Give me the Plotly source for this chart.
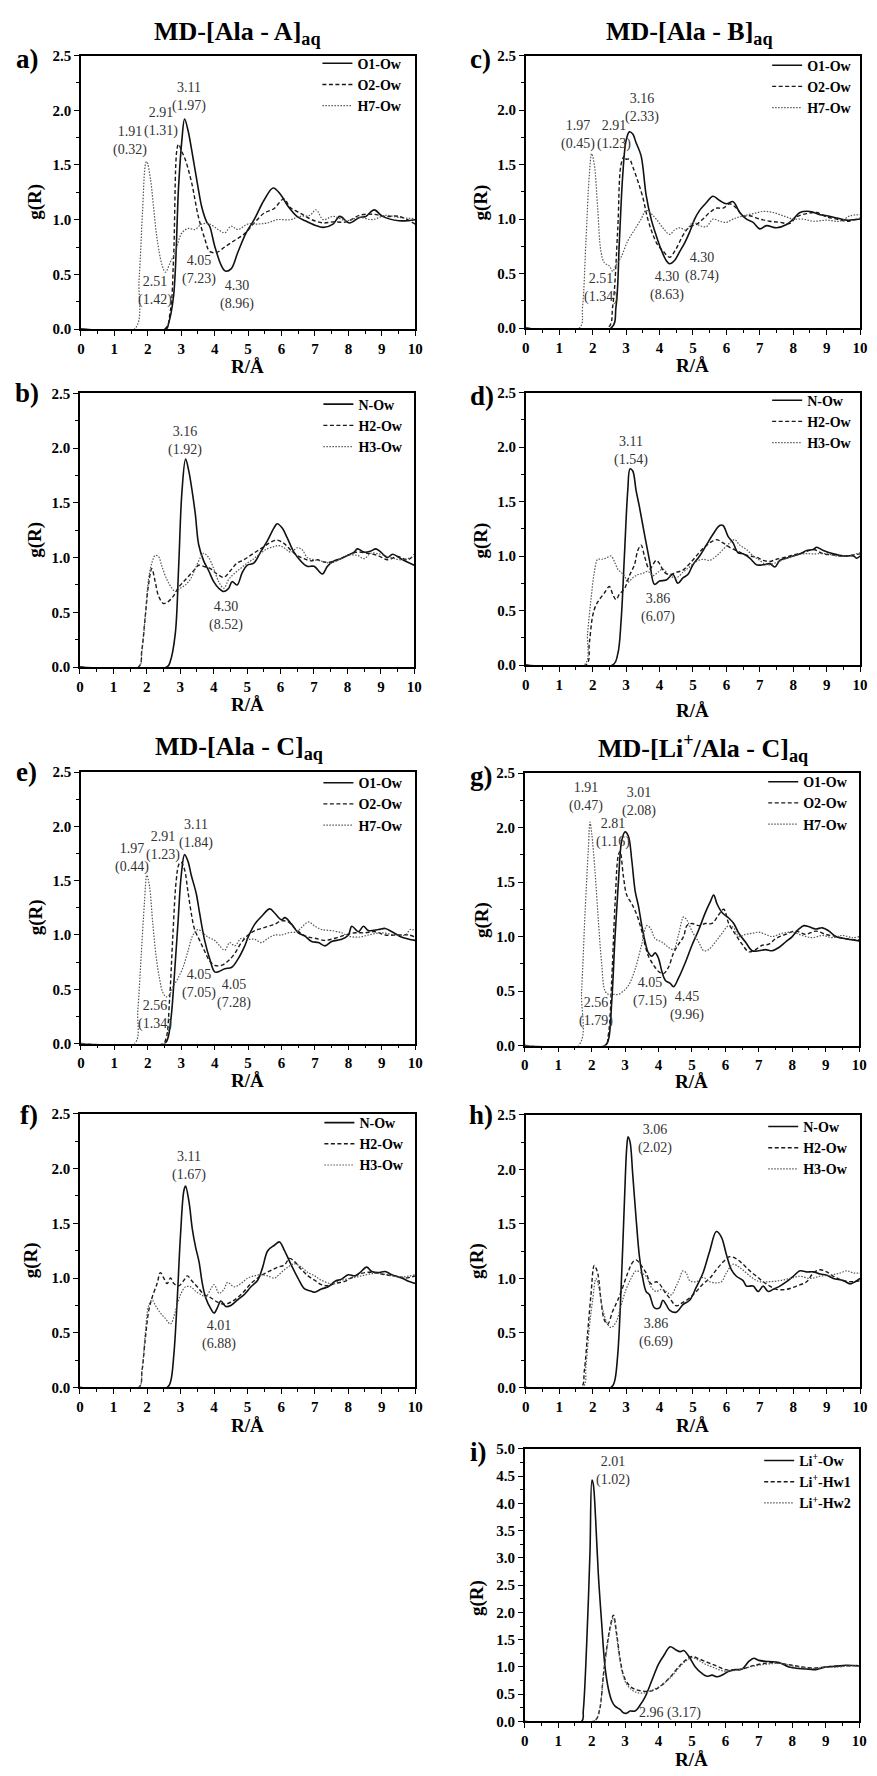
import plotly.graph_objects as go

W, H = 877, 1776
FONT = "Liberation Serif, Times New Roman, serif"

# ---------------- data (R in Angstrom, g(R)) ----------------
# panel a : MD-[Ala - A]aq , O/H7 - Ow
A_O1_R = [0, 2.55, 2.62, 2.77, 2.92, 3.02, 3.10, 3.2, 3.36, 3.5, 3.61, 3.76, 3.85, 4.0, 4.2, 4.32, 4.49, 4.69, 4.94, 5.18, 5.48, 5.75, 5.97, 6.2, 6.46, 6.71, 7.0, 7.25, 7.54, 7.74, 8.03, 8.33, 8.52, 8.77, 9.02, 9.51, 10]
A_O1_G = [0, 0, 0.05, 0.3, 1.3, 1.73, 1.92, 1.82, 1.55, 1.3, 1.12, 0.98, 0.94, 0.76, 0.58, 0.53, 0.55, 0.70, 0.88, 1.0, 1.18, 1.29, 1.23, 1.12, 1.03, 0.99, 0.95, 0.93, 0.96, 1.03, 0.97, 1.02, 1.03, 1.09, 1.03, 0.99, 1.0]
A_O2_R = [0, 2.5, 2.67, 2.77, 2.87, 2.92, 3.02, 3.12, 3.31, 3.51, 3.71, 3.85, 4.05, 4.3, 4.59, 4.89, 5.18, 5.48, 5.77, 6.07, 6.26, 6.56, 6.9, 7.25, 7.54, 7.94, 8.33, 8.72, 9.11, 9.51, 10]
A_O2_G = [0, 0, 0.16, 0.64, 1.64, 1.69, 1.62, 1.55, 1.34, 1.03, 0.82, 0.71, 0.70, 0.75, 0.81, 0.87, 0.97, 1.06, 1.10, 1.19, 1.11, 1.06, 1.0, 0.97, 0.98, 0.98, 1.04, 1.05, 1.03, 1.03, 0.96]
A_H7_R = [0, 1.6, 1.74, 1.84, 1.94, 1.97, 2.08, 2.18, 2.28, 2.43, 2.53, 2.67, 2.82, 3.02, 3.22, 3.41, 3.61, 3.85, 4.1, 4.3, 4.49, 4.69, 4.99, 5.28, 5.58, 5.87, 6.26, 6.56, 6.85, 7.03, 7.25, 7.54, 7.94, 8.33, 8.72, 9.11, 9.51, 10]
A_H7_G = [0, 0, 0.46, 1.06, 1.52, 1.53, 1.37, 1.09, 0.82, 0.58, 0.52, 0.61, 0.70, 0.88, 0.92, 0.91, 0.96, 0.96, 0.91, 0.88, 0.94, 0.91, 0.96, 0.96, 0.97, 1.0, 1.0, 1.03, 1.04, 1.09, 1.0, 1.03, 0.99, 1.02, 1.0, 1.04, 1.02, 1.01]

# panel b : MD-[Ala - A]aq , N/H - Ow
A_N_R = [0, 2.6, 2.7, 2.85, 2.95, 3.05, 3.16, 3.25, 3.35, 3.45, 3.55, 3.7, 3.85, 4.0, 4.15, 4.3, 4.45, 4.55, 4.7, 4.85, 5.0, 5.2, 5.4, 5.6, 5.8, 5.9, 6.05, 6.2, 6.4, 6.6, 6.8, 7.0, 7.25, 7.4, 7.6, 7.8, 8.0, 8.2, 8.3, 8.5, 8.7, 8.85, 9.0, 9.2, 9.35, 9.6, 10]
A_N_G = [0, 0, 0.05, 0.3, 0.9, 1.6, 1.9, 1.8, 1.62, 1.4, 1.12, 0.97, 0.88, 0.78, 0.72, 0.69, 0.72, 0.78, 0.75, 0.86, 0.93, 0.95, 1.05, 1.15, 1.27, 1.31, 1.27, 1.18, 1.05, 0.97, 0.92, 0.92, 0.85, 0.92, 0.97, 0.99, 1.02, 1.05, 1.08, 1.05, 1.06, 1.08, 1.05, 1.0, 1.03, 0.99, 0.93]
A_H2_R = [0, 1.75, 1.85, 1.95, 2.05, 2.15, 2.25, 2.35, 2.5, 2.65, 2.8, 2.95, 3.1, 3.25, 3.4, 3.55, 3.7, 3.9, 4.1, 4.3, 4.5, 4.7, 4.9, 5.1, 5.3, 5.5, 5.7, 5.9, 6.1, 6.3, 6.5, 6.7, 6.9, 7.1, 7.3, 7.5, 7.8, 8.0, 8.3, 8.6, 8.9, 9.2, 9.5, 9.8, 10]
A_H2_G = [0, 0, 0.15, 0.45, 0.75, 0.9, 0.78, 0.65, 0.58, 0.6, 0.65, 0.73, 0.78, 0.83, 0.88, 0.93, 0.92, 0.9, 0.85, 0.82, 0.88, 0.95, 0.98, 1.02, 1.06, 1.1, 1.14, 1.16, 1.13, 1.07, 1.02, 0.99, 0.97, 0.98, 0.96, 0.96, 0.99, 1.02, 1.05, 1.04, 1.02, 0.98, 1.01, 0.98, 1.03]
A_H3_R = [0, 1.75, 1.85, 1.95, 2.05, 2.15, 2.25, 2.35, 2.45, 2.6, 2.75, 2.85, 3.0, 3.15, 3.3, 3.45, 3.6, 3.7, 3.85, 4.0, 4.15, 4.3, 4.45, 4.6, 4.8, 5.0, 5.2, 5.4, 5.6, 5.8, 5.95, 6.1, 6.3, 6.5, 6.65, 6.8, 7.0, 7.2, 7.5, 7.8, 8.0, 8.3, 8.5, 8.7, 9.0, 9.3, 9.6, 10]
A_H3_G = [0, 0, 0.15, 0.45, 0.8, 0.95, 1.02, 1.01, 0.92, 0.8, 0.72, 0.69, 0.72, 0.75, 0.8, 0.9, 1.0, 1.04, 1.0, 0.9, 0.78, 0.72, 0.8, 0.85, 0.9, 0.95, 0.99, 1.04, 1.08, 1.1, 1.11, 1.09, 1.05, 1.09, 1.07, 1.0, 0.98, 0.97, 0.95, 0.99, 1.02, 1.02, 0.99, 1.04, 1.03, 1.0, 0.98, 1.01]

# panel c : MD-[Ala - B]aq
B_O1_R = [0, 2.55, 2.7, 2.8, 2.9, 3.0, 3.1, 3.2, 3.3, 3.45, 3.6, 3.75, 3.9, 4.05, 4.2, 4.3, 4.45, 4.6, 4.75, 4.9, 5.05, 5.2, 5.4, 5.6, 5.8, 6.0, 6.2, 6.4, 6.6, 6.8, 7.0, 7.2, 7.5, 7.8, 8.0, 8.2, 8.5, 8.8, 9.0, 9.3, 9.6, 10]
B_O1_G = [0, 0, 0.2, 0.8, 1.4, 1.72, 1.80, 1.78, 1.70, 1.58, 1.22, 1.0, 0.85, 0.72, 0.62, 0.59, 0.62, 0.70, 0.78, 0.88, 1.0, 1.08, 1.15, 1.21, 1.17, 1.14, 1.16, 1.06, 1.0, 0.97, 0.91, 0.94, 0.92, 0.95, 1.0, 1.06, 1.07, 1.04, 1.03, 1.01, 0.99, 1.0]
B_O2_R = [0, 2.45, 2.6, 2.75, 2.85, 2.95, 3.0, 3.1, 3.2, 3.35, 3.5, 3.65, 3.8, 3.95, 4.1, 4.3, 4.5, 4.7, 4.9, 5.1, 5.3, 5.5, 5.7, 5.9, 6.1, 6.3, 6.5, 6.7, 7.0, 7.3, 7.6, 7.9, 8.1, 8.4, 8.7, 9.0, 9.3, 9.6, 10]
B_O2_G = [0, 0, 0.2, 0.9, 1.5, 1.58, 1.55, 1.55, 1.48, 1.35, 1.2, 1.0, 0.86, 0.76, 0.71, 0.65, 0.73, 0.85, 0.93, 0.95, 1.0, 1.06, 1.1, 1.1, 1.14, 1.1, 1.03, 1.03, 1.0, 0.98, 0.97, 0.96, 1.02, 1.05, 1.06, 1.02, 1.0, 0.98, 1.01]
B_H7_R = [0, 1.6, 1.7, 1.8, 1.9, 1.97, 2.05, 2.15, 2.25, 2.35, 2.5, 2.6, 2.7, 2.85, 3.05, 3.25, 3.45, 3.6, 3.75, 3.9, 4.1, 4.3, 4.45, 4.6, 4.8, 5.0, 5.2, 5.4, 5.6, 5.8, 6.0, 6.2, 6.5, 6.8, 7.1, 7.4, 7.7, 8.0, 8.3, 8.6, 9.0, 9.4, 9.7, 10]
B_H7_G = [0, 0, 0.2, 0.8, 1.4, 1.6, 1.5, 1.1, 0.7, 0.6, 0.57, 0.52, 0.58, 0.65, 0.8, 0.9, 1.0, 1.08, 1.05, 1.0, 0.92, 0.86, 0.9, 0.92, 0.9, 0.97, 0.94, 0.93, 1.0, 0.98, 0.97, 1.0, 1.03, 1.05, 1.07, 1.06, 1.03, 1.0, 1.0, 0.98, 0.99, 0.98, 1.03, 1.04]

# panel d : MD-[Ala - B]aq , N/H
B_N_R = [0, 2.6, 2.75, 2.85, 2.95, 3.05, 3.12, 3.2, 3.3, 3.4, 3.55, 3.7, 3.85, 4.0, 4.2, 4.4, 4.55, 4.7, 4.85, 5.0, 5.2, 5.4, 5.6, 5.8, 5.9, 6.05, 6.2, 6.35, 6.5, 6.7, 6.9, 7.1, 7.3, 7.45, 7.6, 7.8, 8.0, 8.2, 8.4, 8.6, 8.7, 8.9, 9.2, 9.5, 9.8, 9.9, 10]
B_N_G = [0, 0, 0.1, 0.4, 1.0, 1.6, 1.8, 1.78, 1.6, 1.45, 1.2, 0.96, 0.74, 0.77, 0.78, 0.83, 0.75, 0.8, 0.83, 0.92, 1.0, 1.1, 1.2, 1.28, 1.28, 1.18, 1.12, 1.03, 1.02, 0.98, 0.92, 0.92, 0.93, 0.9, 0.96, 0.98, 1.0, 1.02, 1.05, 1.06, 1.08, 1.05, 1.02, 1.0, 1.0, 0.98, 1.0]
B_H2_R = [0, 1.8, 1.9, 2.0, 2.1, 2.2, 2.35, 2.5, 2.6, 2.7, 2.8, 2.95, 3.1, 3.25, 3.35, 3.45, 3.55, 3.7, 3.9, 4.0, 4.15, 4.3, 4.5, 4.7, 4.9, 5.1, 5.3, 5.5, 5.7, 5.9, 6.1, 6.3, 6.5, 6.7, 6.9, 7.1, 7.3, 7.5, 7.8, 8.0, 8.3, 8.6, 8.9, 9.2, 9.5, 10]
B_H2_G = [0, 0, 0.2, 0.45, 0.55, 0.6, 0.66, 0.72, 0.65, 0.6, 0.65, 0.7, 0.82, 0.92, 1.05, 1.1, 1.0, 0.88, 0.96, 0.93, 0.85, 0.83, 0.85, 0.87, 0.93, 1.0, 1.07, 1.12, 1.15, 1.12, 1.08, 1.05, 1.02, 1.0, 0.99, 0.96, 0.95, 0.97, 0.99, 1.01, 1.03, 1.06, 1.02, 1.01, 1.0, 1.02]
B_H3_R = [0, 1.75, 1.85, 1.95, 2.05, 2.15, 2.25, 2.4, 2.55, 2.65, 2.75, 2.85, 2.95, 3.05, 3.2, 3.35, 3.5, 3.65, 3.8, 3.95, 4.1, 4.3, 4.5, 4.7, 4.9, 5.1, 5.3, 5.5, 5.7, 5.9, 6.1, 6.25, 6.4, 6.6, 6.8, 7.0, 7.2, 7.5, 7.8, 8.0, 8.3, 8.6, 9.0, 9.3, 9.6, 10]
B_H3_G = [0, 0, 0.3, 0.6, 0.85, 0.97, 0.97, 0.98, 1.0, 0.95, 0.88, 0.85, 0.82, 0.76, 0.8, 0.83, 0.84, 0.86, 0.82, 0.85, 0.88, 0.82, 0.8, 0.85, 0.9, 0.95, 0.97, 0.96, 1.0, 1.06, 1.12, 1.15, 1.1, 1.06, 1.0, 0.96, 0.92, 0.94, 0.98, 1.0, 1.02, 1.02, 1.02, 1.0, 1.0, 1.03]

# panel e : MD-[Ala - C]aq
C_O1_R = [0, 2.5, 2.6, 2.7, 2.8, 2.9, 3.0, 3.1, 3.2, 3.3, 3.45, 3.55, 3.7, 3.85, 4.0, 4.1, 4.3, 4.5, 4.7, 4.9, 5.0, 5.2, 5.4, 5.65, 5.8, 6.0, 6.1, 6.3, 6.5, 6.7, 6.9, 7.1, 7.3, 7.5, 7.8, 8.0, 8.1, 8.3, 8.45, 8.6, 8.9, 9.1, 9.3, 9.6, 10]
C_O1_G = [0, 0, 0.05, 0.25, 0.65, 1.1, 1.55, 1.74, 1.68, 1.55, 1.38, 1.2, 0.95, 0.78, 0.66, 0.66, 0.69, 0.7, 0.78, 0.9, 0.98, 1.1, 1.17, 1.24, 1.2, 1.14, 1.16, 1.1, 1.02, 0.99, 0.94, 0.93, 0.9, 0.94, 0.96, 1.0, 1.08, 1.03, 1.08, 1.04, 1.05, 1.06, 1.03, 0.98, 0.95]
C_O2_R = [0, 2.45, 2.55, 2.65, 2.75, 2.85, 2.93, 3.0, 3.1, 3.2, 3.3, 3.4, 3.55, 3.7, 3.85, 4.0, 4.2, 4.4, 4.6, 4.8, 5.0, 5.2, 5.4, 5.6, 5.8, 6.0, 6.2, 6.4, 6.6, 6.8, 7.0, 7.3, 7.6, 7.9, 8.2, 8.5, 8.8, 9.1, 9.5, 9.8, 10]
C_O2_G = [0, 0, 0.05, 0.4, 1.0, 1.5, 1.65, 1.67, 1.6, 1.4, 1.2, 1.05, 0.95, 0.85, 0.76, 0.72, 0.72, 0.76, 0.83, 0.93, 1.0, 1.04, 1.06, 1.08, 1.1, 1.13, 1.12, 1.06, 1.01, 0.98, 0.97, 0.95, 0.97, 1.0, 1.02, 1.02, 1.03, 1.0, 1.0, 1.0, 0.98]
C_H7_R = [0, 1.6, 1.7, 1.8, 1.9, 1.97, 2.05, 2.15, 2.25, 2.35, 2.45, 2.55, 2.65, 2.75, 2.9, 3.05, 3.2, 3.35, 3.5, 3.65, 3.8, 4.0, 4.15, 4.3, 4.45, 4.6, 4.8, 5.0, 5.2, 5.4, 5.6, 5.8, 6.0, 6.2, 6.45, 6.6, 6.8, 7.0, 7.2, 7.5, 7.8, 8.0, 8.3, 8.6, 9.0, 9.4, 9.7, 9.85, 10]
C_H7_G = [0, 0, 0.3, 0.8, 1.3, 1.55, 1.45, 1.1, 0.8, 0.6, 0.47, 0.43, 0.45, 0.52, 0.6, 0.7, 0.85, 1.0, 1.05, 1.02, 0.98, 0.95, 0.9, 0.86, 0.93, 0.9, 0.97, 0.96, 0.96, 0.93, 0.97, 1.0, 1.0, 1.02, 1.03, 1.07, 1.12, 1.08, 1.05, 1.04, 1.02, 0.99, 0.98, 1.0, 1.02, 1.0, 1.0, 1.05, 1.04]

# panel f : MD-[Ala - C]aq , N/H
C_N_R = [0, 2.6, 2.7, 2.8, 2.9, 3.0, 3.1, 3.15, 3.25, 3.35, 3.45, 3.55, 3.65, 3.75, 3.9, 4.0, 4.1, 4.2, 4.35, 4.5, 4.7, 4.9, 5.1, 5.3, 5.45, 5.6, 5.8, 5.95, 6.1, 6.3, 6.5, 6.7, 6.9, 7.0, 7.2, 7.4, 7.6, 7.8, 8.0, 8.2, 8.35, 8.55, 8.7, 8.9, 9.1, 9.3, 9.6, 9.8, 10]
C_N_G = [0, 0, 0.05, 0.3, 0.8, 1.4, 1.8, 1.84, 1.7, 1.45, 1.28, 1.15, 0.95, 0.82, 0.72, 0.68, 0.73, 0.79, 0.74, 0.75, 0.8, 0.85, 0.92, 0.98, 1.1, 1.25, 1.3, 1.33, 1.25, 1.12, 1.0, 0.9, 0.88, 0.87, 0.9, 0.92, 0.97, 0.99, 1.03, 1.02, 1.05, 1.1, 1.06, 1.05, 1.06, 1.03, 1.0, 0.97, 0.95]
C_H2_R = [0, 1.75, 1.85, 1.95, 2.05, 2.15, 2.3, 2.4, 2.5, 2.6, 2.7, 2.8, 2.95, 3.1, 3.2, 3.35, 3.5, 3.7, 3.9, 4.1, 4.3, 4.5, 4.7, 4.9, 5.1, 5.3, 5.5, 5.7, 5.9, 6.1, 6.25, 6.4, 6.6, 6.8, 7.0, 7.2, 7.4, 7.6, 7.9, 8.2, 8.5, 8.8, 9.1, 9.4, 9.7, 10]
C_H2_G = [0, 0, 0.15, 0.45, 0.7, 0.82, 0.95, 1.05, 1.0, 0.95, 1.0, 0.95, 0.93, 0.98, 1.02, 0.97, 0.92, 0.85, 0.82, 0.78, 0.76, 0.78, 0.82, 0.88, 0.95, 1.0, 1.04, 1.07, 1.1, 1.12, 1.18, 1.15, 1.08, 1.02, 0.98, 0.94, 0.93, 0.95, 0.97, 1.02, 1.05, 1.05, 1.03, 1.02, 1.0, 1.02]
C_H3_R = [0, 1.75, 1.85, 1.95, 2.05, 2.15, 2.25, 2.4, 2.55, 2.7, 2.85, 3.0, 3.15, 3.3, 3.45, 3.6, 3.75, 3.9, 4.0, 4.15, 4.3, 4.4, 4.6, 4.8, 5.0, 5.2, 5.4, 5.6, 5.8, 6.0, 6.2, 6.4, 6.6, 6.8, 7.0, 7.2, 7.5, 7.8, 8.1, 8.4, 8.7, 9.0, 9.3, 9.6, 10]
C_H3_G = [0, 0, 0.15, 0.5, 0.75, 0.8, 0.75, 0.68, 0.63, 0.58, 0.7, 0.85, 0.92, 0.92, 0.88, 0.85, 0.83, 0.9, 0.94, 0.86, 0.9, 0.96, 0.92, 0.95, 1.0, 1.02, 1.03, 1.02, 1.0, 1.05, 1.1, 1.13, 1.1, 1.05, 1.02, 0.98, 0.95, 0.98, 1.0, 1.02, 1.04, 1.04, 1.02, 1.01, 1.03]

# panel g : MD-[Li+/Ala - C]aq
L_O1_R = [0, 2.4, 2.5, 2.6, 2.7, 2.8, 2.9, 3.0, 3.1, 3.2, 3.3, 3.4, 3.5, 3.6, 3.7, 3.8, 3.9, 4.0, 4.1, 4.2, 4.35, 4.45, 4.6, 4.8, 5.0, 5.2, 5.4, 5.55, 5.65, 5.75, 5.9, 6.1, 6.25, 6.4, 6.6, 6.8, 7.0, 7.2, 7.4, 7.6, 7.8, 8.0, 8.2, 8.35, 8.5, 8.7, 8.9, 9.1, 9.3, 9.6, 10]
L_O1_G = [0, 0, 0.05, 0.4, 1.0, 1.5, 1.88, 1.96, 1.92, 1.7, 1.42, 1.28, 1.1, 0.95, 0.85, 0.82, 0.85, 0.8, 0.68, 0.6, 0.57, 0.54, 0.62, 0.76, 0.92, 1.06, 1.22, 1.32, 1.38, 1.3, 1.22, 1.17, 1.12, 1.03, 0.95, 0.87, 0.87, 0.88, 0.87, 0.9, 0.95, 1.0, 1.07, 1.1, 1.09, 1.07, 1.08, 1.05, 1.0, 0.98, 0.96]
L_O2_R = [0, 2.4, 2.5, 2.6, 2.7, 2.8, 2.85, 2.95, 3.05, 3.2, 3.35, 3.5, 3.6, 3.7, 3.85, 4.0, 4.15, 4.3, 4.45, 4.6, 4.75, 4.85, 5.0, 5.2, 5.4, 5.6, 5.8, 5.95, 6.1, 6.3, 6.5, 6.7, 6.9, 7.1, 7.3, 7.5, 7.8, 8.1, 8.4, 8.7, 9.0, 9.3, 9.6, 10]
L_O2_G = [0, 0, 0.1, 0.6, 1.3, 1.75, 1.78, 1.55, 1.38, 1.3, 1.2, 1.05, 0.92, 0.82, 0.74, 0.68, 0.66, 0.72, 0.85, 0.93, 1.0, 1.1, 1.12, 1.1, 1.12, 1.12, 1.2, 1.25, 1.12, 1.02, 0.93, 0.86, 0.88, 0.92, 0.93, 0.98, 1.02, 1.05, 1.02, 1.05, 1.02, 1.0, 0.98, 0.97]
L_H7_R = [0, 1.6, 1.7, 1.8, 1.9, 1.95, 2.0, 2.1, 2.2, 2.3, 2.4, 2.5, 2.65, 2.8, 2.95, 3.1, 3.3, 3.5, 3.65, 3.75, 3.9, 4.1, 4.3, 4.45, 4.6, 4.75, 4.85, 5.0, 5.2, 5.35, 5.5, 5.7, 5.9, 6.1, 6.25, 6.4, 6.6, 6.8, 7.0, 7.2, 7.4, 7.7, 8.0, 8.3, 8.6, 8.9, 9.2, 9.5, 9.8, 10]
L_H7_G = [0, 0, 0.5, 1.2, 1.8, 2.05, 1.95, 1.6, 1.15, 0.75, 0.5, 0.47, 0.47, 0.47, 0.5, 0.55, 0.7, 0.93, 1.1, 1.08, 0.98, 0.95, 0.9, 0.88, 1.02, 1.18, 1.15, 1.05, 0.95, 0.87, 0.88, 0.95, 1.03, 1.1, 1.08, 1.0, 1.02, 1.03, 1.04, 1.02, 1.0, 1.03, 1.04, 1.01, 0.99, 1.01, 0.99, 1.01, 0.99, 1.0]

# panel h : MD-[Li+/Ala - C]aq , N/H
L_N_R = [0, 2.55, 2.65, 2.75, 2.85, 2.95, 3.02, 3.06, 3.12, 3.2, 3.3, 3.4, 3.5, 3.6, 3.7, 3.85, 4.0, 4.1, 4.2, 4.3, 4.5, 4.7, 4.9, 5.1, 5.3, 5.5, 5.7, 5.85, 6.0, 6.15, 6.3, 6.5, 6.6, 6.8, 6.95, 7.1, 7.25, 7.4, 7.6, 7.8, 8.0, 8.2, 8.4, 8.6, 8.8, 9.0, 9.2, 9.5, 9.7, 9.85, 10]
L_N_G = [0, 0, 0.05, 0.3, 0.9, 1.7, 2.2, 2.3, 2.25, 1.95, 1.55, 1.2, 1.0, 0.88, 0.85, 0.73, 0.73, 0.8, 0.76, 0.71, 0.69, 0.76, 0.8, 0.92, 1.05, 1.25, 1.43, 1.38, 1.22, 1.08, 1.02, 0.98, 0.93, 0.93, 0.88, 0.93, 0.88, 0.9, 0.93, 0.97, 1.02, 1.07, 1.06, 1.06, 1.04, 1.03, 1.0, 0.98, 0.95, 0.97, 1.0]
L_H2_R = [0, 1.65, 1.75, 1.85, 1.95, 2.05, 2.15, 2.25, 2.35, 2.45, 2.6, 2.75, 2.9, 3.05, 3.2, 3.3, 3.45, 3.6, 3.75, 3.9, 4.0, 4.15, 4.3, 4.5, 4.7, 4.9, 5.1, 5.3, 5.5, 5.7, 5.9, 6.1, 6.3, 6.5, 6.7, 6.9, 7.1, 7.3, 7.5, 7.8, 8.1, 8.4, 8.6, 8.8, 9.0, 9.2, 9.5, 9.8, 10]
L_H2_G = [0, 0, 0.15, 0.5, 0.85, 1.12, 1.05, 0.8, 0.62, 0.58, 0.7, 0.8, 0.92, 1.05, 1.15, 1.17, 1.12, 1.05, 0.95, 0.97, 0.95, 0.88, 0.82, 0.75, 0.78, 0.82, 0.88, 0.95, 1.0, 1.08, 1.15, 1.2, 1.18, 1.13, 1.07, 1.02, 0.97, 0.93, 0.9, 0.9, 0.93, 0.97, 1.05, 1.08, 1.06, 1.02, 0.98, 0.97, 0.98]
L_H3_R = [0, 1.7, 1.8, 1.9, 2.0, 2.1, 2.2, 2.3, 2.45, 2.55, 2.7, 2.85, 3.0, 3.15, 3.3, 3.45, 3.6, 3.75, 3.9, 4.05, 4.2, 4.35, 4.5, 4.6, 4.7, 4.8, 4.9, 5.1, 5.3, 5.5, 5.7, 5.85, 6.0, 6.2, 6.4, 6.6, 6.8, 7.0, 7.3, 7.6, 7.9, 8.2, 8.5, 8.8, 9.1, 9.4, 9.6, 9.8, 10]
L_H3_G = [0, 0, 0.2, 0.55, 0.8, 1.0, 0.9, 0.72, 0.58, 0.55, 0.6, 0.75, 0.9, 1.0, 1.07, 1.05, 1.02, 0.92, 0.88, 0.9, 0.88, 0.85, 0.93, 1.0, 1.07, 1.05, 0.98, 0.97, 1.01, 0.97, 0.96, 0.97, 1.05, 1.13, 1.1, 1.05, 1.0, 0.97, 0.97, 0.98, 1.0, 1.02, 1.0, 1.02, 1.03, 1.05, 1.07, 1.05, 1.05]

# panel i : Li+ - water
LI_O_R = [0, 1.7, 1.75, 1.85, 1.95, 2.01, 2.05, 2.12, 2.2, 2.3, 2.4, 2.5, 2.6, 2.7, 2.85, 2.95, 3.05, 3.15, 3.3, 3.45, 3.6, 3.8, 4.0, 4.15, 4.35, 4.5, 4.65, 4.75, 4.9, 5.1, 5.3, 5.45, 5.6, 5.75, 5.9, 6.1, 6.3, 6.5, 6.7, 6.85, 7.0, 7.3, 7.6, 7.9, 8.2, 8.5, 8.7, 9.0, 9.3, 9.6, 10]
LI_O_G = [0, 0, 0.2, 1.4, 3.1, 4.43, 4.35, 3.7, 2.7, 1.8, 1.0, 0.6, 0.38, 0.28, 0.22, 0.16, 0.15, 0.19, 0.19, 0.3, 0.45, 0.75, 1.05, 1.2, 1.37, 1.32, 1.28, 1.3, 1.2, 1.0, 0.88, 0.83, 0.85, 0.82, 0.85, 0.92, 0.95, 0.96, 1.1, 1.16, 1.12, 1.1, 1.08, 1.0, 0.97, 0.96, 0.95, 1.0, 1.01, 1.03, 1.02]
LI_HW1_R = [0, 2.05, 2.15, 2.25, 2.35, 2.45, 2.55, 2.65, 2.75, 2.85, 2.95, 3.05, 3.2, 3.35, 3.5, 3.65, 3.8, 4.0, 4.2, 4.4, 4.6, 4.8, 5.0, 5.2, 5.4, 5.6, 5.8, 6.0, 6.2, 6.5, 6.8, 7.1, 7.4, 7.7, 8.0, 8.3, 8.6, 9.0, 9.4, 9.7, 10]
LI_HW1_G = [0, 0, 0.05, 0.25, 0.85, 1.35, 1.72, 1.95, 1.6, 1.15, 0.85, 0.72, 0.62, 0.58, 0.56, 0.55, 0.56, 0.62, 0.72, 0.85, 1.0, 1.12, 1.19, 1.15, 1.1, 1.05, 1.0, 0.95, 0.94, 0.96, 1.02, 1.06, 1.08, 1.06, 1.03, 1.0, 0.98, 1.0, 1.02, 1.02, 1.03]
LI_HW2_R = [0, 2.05, 2.15, 2.25, 2.35, 2.45, 2.55, 2.65, 2.75, 2.85, 2.95, 3.05, 3.2, 3.35, 3.5, 3.65, 3.8, 4.0, 4.2, 4.4, 4.6, 4.8, 5.0, 5.2, 5.4, 5.6, 5.8, 6.0, 6.2, 6.5, 6.8, 7.1, 7.4, 7.7, 8.0, 8.3, 8.6, 9.0, 9.4, 9.7, 10]
LI_HW2_G = [0, 0, 0.05, 0.25, 0.8, 1.3, 1.68, 1.9, 1.55, 1.1, 0.82, 0.68, 0.58, 0.53, 0.52, 0.53, 0.57, 0.63, 0.72, 0.83, 0.98, 1.1, 1.17, 1.12, 1.05, 1.0, 0.95, 0.92, 0.93, 0.96, 1.01, 1.04, 1.06, 1.06, 1.02, 0.99, 0.97, 0.99, 1.0, 1.02, 1.02]

# peak / minimum labels (R, g position of label, text)
A1_LABELS = [(3.24, 2.12, "3.11<br>(1.97)"), (2.39, 1.89, "2.91<br>(1.31)"), (1.47, 1.72, "1.91<br>(0.32)"),
             (2.21, 0.35, "2.51<br>(1.42)"), (3.54, 0.54, "4.05<br>(7.23)"), (4.66, 0.31, "4.30<br>(8.96)")]
A2_LABELS = [(3.15, 2.07, "3.16<br>(1.92)"), (4.38, 0.47, "4.30<br>(8.52)")]
B1_LABELS = [(3.47, 2.02, "3.16<br>(2.33)"), (2.63, 1.77, "2.91<br>(1.23)"), (1.55, 1.77, "1.97<br>(0.45)"),
             (2.24, 0.37, "2.51<br>(1.34)"), (4.22, 0.39, "4.30<br>(8.63)"), (5.28, 0.56, "4.30<br>(8.74)")]
B2_LABELS = [(3.16, 1.96, "3.11<br>(1.54)"), (3.95, 0.52, "3.86<br>(6.07)")]
C1_LABELS = [(3.45, 1.93, "3.11<br>(1.84)"), (2.45, 1.82, "2.91<br>(1.23)"), (1.53, 1.71, "1.97<br>(0.44)"),
             (2.21, 0.26, "2.56<br>(1.34)"), (3.54, 0.55, "4.05<br>(7.05)"), (4.57, 0.46, "4.05<br>(7.28)")]
C2_LABELS = [(3.24, 2.02, "3.11<br>(1.67)"), (4.15, 0.48, "4.01<br>(6.88)")]
L1_LABELS = [(1.83, 2.28, "1.91<br>(0.47)"), (3.42, 2.23, "3.01<br>(2.08)"), (2.63, 1.95, "2.81<br>(1.16)"),
             (2.12, 0.31, "2.56<br>(1.79)"), (3.75, 0.49, "4.05<br>(7.15)"), (4.84, 0.36, "4.45<br>(9.96)")]
L2_LABELS = [(3.86, 2.28, "3.06<br>(2.02)"), (3.89, 0.50, "3.86<br>(6.69)")]
LI_LABELS = [(2.63, 4.6, "2.01<br>(1.02)"), (4.34, 0.16, "2.96 (3.17)")]

TITLES = ["MD-[Ala - A]<sub>aq</sub>", "MD-[Ala - B]<sub>aq</sub>",
          "MD-[Ala - C]<sub>aq</sub>", "MD-[Li<sup>+</sup>/Ala - C]<sub>aq</sub>"]

# ---------------- styles ----------------
STY = {
    "solid": dict(color="#111111", width=1.6, dash="solid"),
    "dash": dict(color="#1a1a1a", width=1.4, dash="4px,2.5px"),
    "dot": dict(color="#555555", width=1.2, dash="1.5px,1.5px"),
}
OH = ["O1-Ow", "O2-Ow", "H7-Ow"]
NH = ["N-Ow", "H2-Ow", "H3-Ow"]

def xp(px):
    return px / W

def yp(py):
    return 1 - py / H

panels = [
    dict(lab="a)", box=(78, 417, 48, 324), ymax=2.5, names=OH,
         data=[(A_O1_R, A_O1_G), (A_O2_R, A_O2_G), (A_H7_R, A_H7_G)], notes=A1_LABELS,
         leg=(409, 40), glab=(32, 196), rlab=(247, 362), plab=(24, 51)),
    dict(lab="b)", box=(77, 416, 389, 665), ymax=2.5, names=NH,
         data=[(A_N_R, A_N_G), (A_H2_R, A_H2_G), (A_H3_R, A_H3_G)], notes=A2_LABELS,
         leg=(410, 384), glab=(32, 537), rlab=(247, 703), plab=(23, 389)),
    dict(lab="c)", box=(529, 868, 48, 323), ymax=2.5, names=OH,
         data=[(B_O1_R, B_O1_G), (B_O2_R, B_O2_G), (B_H7_R, B_H7_G)], notes=B1_LABELS,
         leg=(865, 42), glab=(484, 196), rlab=(698, 361), plab=(483, 51)),
    dict(lab="d)", box=(529, 868, 388, 663), ymax=2.5, names=NH,
         data=[(B_N_R, B_N_G), (B_H2_R, B_H2_G), (B_H3_R, B_H3_G)], notes=B2_LABELS,
         leg=(865, 380), glab=(484, 537), rlab=(698, 709), plab=(485, 392)),
    dict(lab="e)", box=(78, 417, 771, 1045), ymax=2.5, names=OH,
         data=[(C_O1_R, C_O1_G), (C_O2_R, C_O2_G), (C_H7_R, C_H7_G)], notes=C1_LABELS,
         leg=(410, 766), glab=(32, 918), rlab=(247, 1082), plab=(23, 771)),
    dict(lab="f)", box=(77, 417, 1116, 1392), ymax=2.5, names=NH,
         data=[(C_N_R, C_N_G), (C_H2_R, C_H2_G), (C_H3_R, C_H3_G)], notes=C2_LABELS,
         leg=(411, 1109), glab=(27, 1264), rlab=(247, 1430), plab=(25, 1117)),
    dict(lab="g)", box=(528, 867, 772, 1047), ymax=2.5, names=OH,
         data=[(L_O1_R, L_O1_G), (L_O2_R, L_O2_G), (L_H7_R, L_H7_G)], notes=L1_LABELS,
         leg=(861, 765), glab=(484, 920), rlab=(697, 1083), plab=(484, 775)),
    dict(lab="h)", box=(529, 868, 1117, 1392), ymax=2.5, names=NH,
         data=[(L_N_R, L_N_G), (L_H2_R, L_H2_G), (L_H3_R, L_H3_G)], notes=L2_LABELS,
         leg=(861, 1113), glab=(479, 1264), rlab=(698, 1430), plab=(484, 1117)),
    dict(lab="i)", box=(528, 867, 1454, 1729), ymax=5.0, names=["Li<sup>+</sup>-Ow", "Li<sup>+</sup>-Hw1", "Li<sup>+</sup>-Hw2"],
         data=[(LI_O_R, LI_O_G), (LI_HW1_R, LI_HW1_G), (LI_HW2_R, LI_HW2_G)], notes=LI_LABELS,
         leg=(864, 1450), glab=(479, 1604), rlab=(697, 1767), plab=(481, 1457)),
]

fig = go.Figure()
layout = dict(width=W, height=H, margin=dict(l=0, r=0, t=0, b=0),
              paper_bgcolor="white", plot_bgcolor="white",
              font=dict(family=FONT, color="black"), showlegend=True)
annotations = []
styles = ["solid", "dash", "dot"]

for k, p in enumerate(panels, start=1):
    sx = "" if k == 1 else str(k)
    leg_id = "legend" if k == 1 else f"legend{k}"
    x0, x1, y0, y1 = p["box"]
    for (rr, gg), nm, st in zip(p["data"], p["names"], styles):
        if len(rr) != len(gg):
            raise ValueError(f"length mismatch in panel {p['lab']} {nm}: {len(rr)} vs {len(gg)}")
        fig.add_trace(go.Scatter(x=rr, y=gg, mode="lines", name=nm, line=STY[st],
                                 xaxis="x" + sx, yaxis="y" + sx, legend=leg_id,
                                 line_shape="spline", hoverinfo="skip"))
    common = dict(showline=True, linecolor="black", linewidth=1.5, mirror=True,
                  showgrid=False, zeroline=False, ticks="outside", ticklen=5,
                  tickwidth=1.3, tickcolor="black",
                  tickfont=dict(family=FONT, size=15, color="black", weight="bold"))
    layout["xaxis" + sx] = dict(common, domain=[xp(x0), xp(x1)], anchor="y" + sx,
                                range=[0, 10], dtick=1, tick0=0,
                                minor=dict(ticks="outside", ticklen=3, dtick=0.5, tickcolor="black", tickwidth=1))
    layout["yaxis" + sx] = dict(common, domain=[yp(y1), yp(y0)], anchor="x" + sx,
                                range=[0, p["ymax"]], dtick=0.5, tick0=0, tickformat=".1f",
                                minor=dict(ticks="outside", ticklen=3, dtick=0.25, tickcolor="black", tickwidth=1))
    lx, ly = p["leg"]
    layout[leg_id] = dict(x=xp(lx), y=yp(ly), xanchor="right", yanchor="top",
                          bgcolor="rgba(0,0,0,0)", borderwidth=0, tracegroupgap=0,
                          font=dict(family=FONT, size=14, color="black", weight="bold"))
    for (nx, ny, txt) in p["notes"]:
        annotations.append(dict(x=nx, y=ny, xref="x" + sx, yref="y" + sx, text=txt,
                                showarrow=False, xanchor="center", yanchor="middle",
                                font=dict(family=FONT, size=14, color="#333333")))
    gx, gy = p["glab"]
    annotations.append(dict(x=xp(gx), y=yp(gy), xref="paper", yref="paper", text="<b>g(R)</b>",
                            textangle=-90, showarrow=False, xanchor="center", yanchor="middle",
                            font=dict(family=FONT, size=19, color="black")))
    rx, ry = p["rlab"]
    annotations.append(dict(x=xp(rx), y=yp(ry), xref="paper", yref="paper", text="<b>R/Å</b>",
                            showarrow=False, xanchor="center", yanchor="middle",
                            font=dict(family=FONT, size=19, color="black")))
    px_, py_ = p["plab"]
    annotations.append(dict(x=xp(px_), y=yp(py_), xref="paper", yref="paper", text="<b>" + p["lab"] + "</b>",
                            showarrow=False, xanchor="center", yanchor="middle",
                            font=dict(family=FONT, size=27, color="black")))

title_pos = [(237, 25), (695, 25), (238, 747), (709, 747)]
for txt, (tx, ty) in zip(TITLES, title_pos):
    annotations.append(dict(x=xp(tx), y=yp(ty), xref="paper", yref="paper", text="<b>" + txt + "</b>",
                            showarrow=False, xanchor="center", yanchor="middle",
                            font=dict(family=FONT, size=26, color="black")))

layout["annotations"] = annotations
fig.update_layout(**layout)
fig.write_html("out.html", config={"displayModeBar": False},
               post_script="document.body.style.margin='0';document.body.style.overflow='hidden';")
